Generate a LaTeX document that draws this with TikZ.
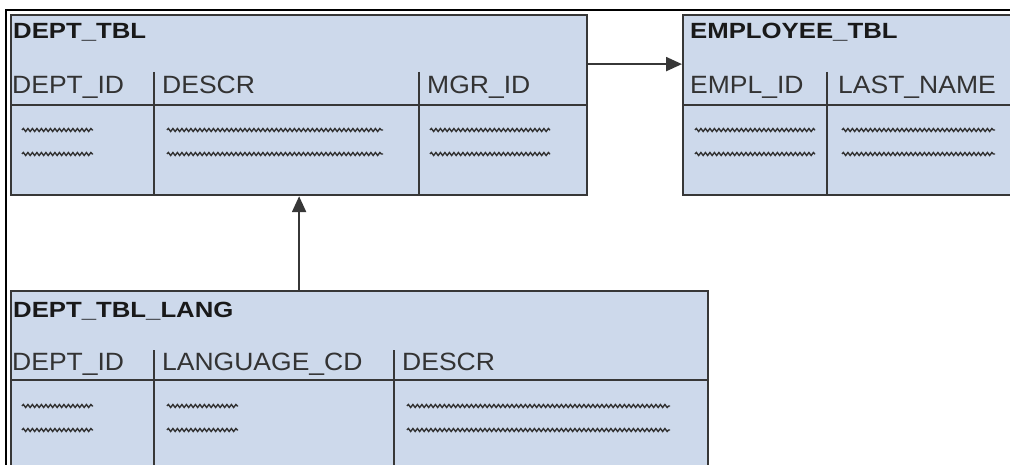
\documentclass[tikz,border=0pt]{standalone}
\usepackage{fontspec}
\setmainfont{Liberation Sans}
\newfontfamily\titlefont[FakeStretch=1.17]{Liberation Sans}
\newfontfamily\colfont[FakeStretch=1.06]{Liberation Sans}
\usetikzlibrary{positioning,arrows.meta,decorations.pathmorphing}
\definecolor{tblfill}{RGB}{205,217,235}
\definecolor{tblline}{RGB}{55,55,55}
\tikzset{
  tbl/.style={draw=tblline, line width=2.2pt, fill=tblfill, anchor=north west, inner sep=0pt},
  tbltitle/.style={anchor=base west, inner sep=0pt, text=black!90, font=\titlefont\bfseries\fontsize{22}{22}\selectfont},
  colname/.style={anchor=base west, inner sep=0pt, text=black!80, font=\colfont\fontsize{25}{25}\selectfont},
  rule/.style={draw=tblline, line width=2.2pt},
  wavy/.style={draw=black!80, line width=1.4pt, decorate, decoration={snake, segment length=4.5pt, amplitude=1.5pt}},
  link/.style={draw=tblline, line width=2.2pt, -{Triangle[length=16pt,width=14pt]}},
}

\begin{document}
\begin{tikzpicture}[x=1pt,y=-1pt]
\useasboundingbox (0,0) rectangle (1010,465);
\clip (0,0) rectangle (1010,465);
\draw [line width=1.5pt] (6,470) -- (6,10) -- (1015,10);

% DEPT_TBL
\node [tbl, minimum width=576pt, minimum height=180pt] (dept) at (10,14) {};
\node [tbltitle] (dept name) at (13,39) {DEPT\_TBL};
\node [colname] (dept id) at (12,94) {DEPT\_ID};
\node [colname] (dept descr) at (162,94) {DESCR};
\node [colname] (dept mgr) at (427,94) {MGR\_ID};
\draw [rule] (10,105) -- (586,105);
\draw [rule] (154,72) -- (154,194);
\draw [rule] (419,72) -- (419,194);
\foreach \y in {130,154} {
  \draw [wavy] (22,\y) -- (93,\y);
  \draw [wavy] (167,\y) -- (383,\y);
  \draw [wavy] (430,\y) -- (550,\y);
}

% EMPLOYEE_TBL
\node [tbl, minimum width=340pt, minimum height=180pt] (empl) at (682,14) {};
\node [tbltitle] (empl name) at (690,39) {EMPLOYEE\_TBL};
\node [colname] (empl id) at (690,94) {EMPL\_ID};
\node [colname] (empl last) at (838,94) {LAST\_NAME};
\draw [rule] (682,105) -- (1015,105);
\draw [rule] (827,72) -- (827,194);
\foreach \y in {130,154} {
  \draw [wavy] (695,\y) -- (815,\y);
  \draw [wavy] (842,\y) -- (995,\y);
}

% DEPT_TBL_LANG
\node [tbl, minimum width=697pt, minimum height=200pt] (lang) at (10,290) {};
\node [tbltitle] (lang name) at (13,318) {DEPT\_TBL\_LANG};
\node [colname] (lang id) at (12,370) {DEPT\_ID};
\node [colname] (lang cd) at (162,370) {LANGUAGE\_CD};
\node [colname] (lang descr) at (402,370) {DESCR};
\draw [rule] (10,380) -- (707,380);
\draw [rule] (154,350) -- (154,470);
\draw [rule] (394,350) -- (394,470);
\foreach \y in {406,430} {
  \draw [wavy] (22,\y) -- (93,\y);
  \draw [wavy] (167,\y) -- (238,\y);
  \draw [wavy] (407,\y) -- (670,\y);
}

\draw [link] ([yshift=41pt]dept.east) -- ([yshift=41pt]empl.west);
\draw [link] (lang.north -| dept.south) -- (dept.south);
\end{tikzpicture}
\end{document}
